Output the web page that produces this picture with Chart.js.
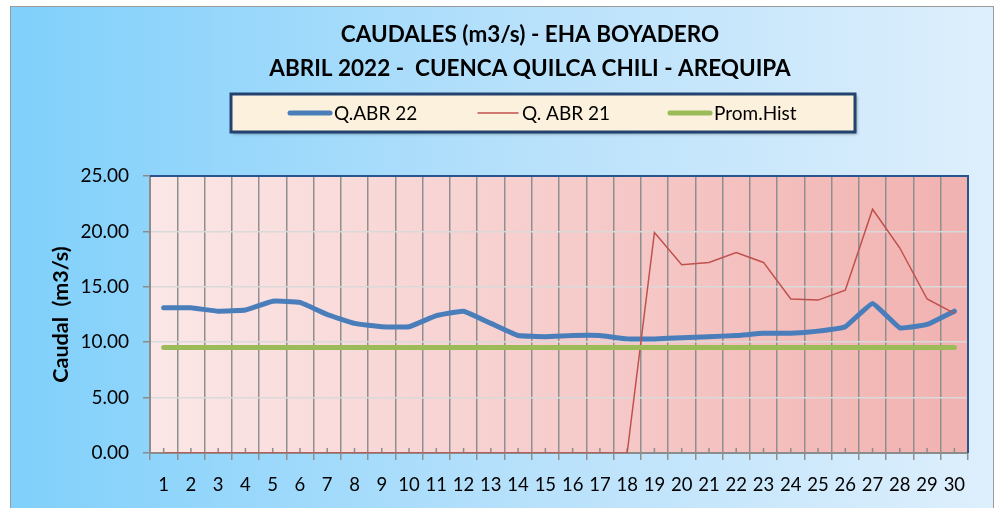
<!DOCTYPE html>
<html>
<head>
<meta charset="utf-8">
<script src="https://cdn.jsdelivr.net/npm/chart.js@4"></script>
<style>
  html, body { margin: 0; padding: 0; background: #fff; }
  #wrap { width: 998px; height: 508px; }
</style>
</head>
<body>
<div id="wrap"><canvas id="caudalChart" width="998" height="508"></canvas></div>
<script>
// caudales eha boyadero - abril 2022

const titleLines = ["CAUDALES (m3/s) - EHA BOYADERO", "ABRIL 2022 -  CUENCA QUILCA CHILI - AREQUIPA"];
const days = ["1","2","3","4","5","6","7","8","9","10","11","12","13","14","15",
              "16","17","18","19","20","21","22","23","24","25","26","27","28","29","30"];
const qAbr22 = [13.1, 13.1, 12.8, 12.9, 13.7, 13.6, 12.5, 11.7, 11.4, 11.4,
                12.4, 12.8, 11.7, 10.6, 10.5, 10.6, 10.6, 10.3, 10.3, 10.4,
                10.5, 10.6, 10.8, 10.8, 11.0, 11.4, 13.5, 11.3, 11.6, 12.8];
const qAbr21 = [0, 0, 0, 0, 0, 0, 0, 0, 0, 0,
                0, 0, 0, 0, 0, 0, 0, 0, 19.9, 17.0,
                17.2, 18.1, 17.2, 13.9, 13.8, 14.7, 22.0, 18.5, 13.9, 12.6];
const promHist = [9.53, 9.53, 9.53, 9.53, 9.53, 9.53, 9.53, 9.53, 9.53, 9.53,
                  9.53, 9.53, 9.53, 9.53, 9.53, 9.53, 9.53, 9.53, 9.53, 9.53,
                  9.53, 9.53, 9.53, 9.53, 9.53, 9.53, 9.53, 9.53, 9.53, 9.53];
const yTicks = [0, 5, 10, 15, 20, 25];

const FONT = "Lato, 'Open Sans', sans-serif";

// background, frame, title and boxed legend
const decorPlugin = {
  id: "decor",
  beforeDraw(chart) {
    const ctx = chart.ctx;
    const a = chart.chartArea;
    ctx.save();
    ctx.fillStyle = "#ffffff";
    ctx.fillRect(0, 0, chart.width, chart.height);
    // outer area
    const g = ctx.createLinearGradient(10, 0, 994, 0);
    g.addColorStop(0, "#7fd0fb");
    g.addColorStop(0.5, "#b5e0fb");
    g.addColorStop(1, "#deeffc");
    ctx.fillStyle = g;
    ctx.fillRect(10, 6, 984, 510);
    ctx.strokeStyle = "#9a9a9a";
    ctx.lineWidth = 1;
    ctx.strokeRect(10.5, 6.5, 983, 510);
    // plot area
    const p = ctx.createLinearGradient(a.left, 0, a.right, 0);
    p.addColorStop(0, "#fbe7e7");
    p.addColorStop(1, "#f1b2b0");
    ctx.fillStyle = p;
    ctx.fillRect(a.left, a.top, a.right - a.left, a.bottom - a.top);
    ctx.restore();
  },
  beforeDatasetsDraw(chart) {
    const ctx = chart.ctx;
    const a = chart.chartArea;
    const x = chart.scales.x;
    ctx.save();
    // small ticks at the day centres
    ctx.strokeStyle = "#8c8c8c";
    ctx.lineWidth = 1.5;
    days.forEach(function (d, i) {
      const px = x.getPixelForValue(i);
      ctx.beginPath();
      ctx.moveTo(px, a.bottom);
      ctx.lineTo(px, a.bottom - 5);
      ctx.stroke();
    });
    // top and right border
    ctx.strokeStyle = "#28558f";
    ctx.lineWidth = 2;
    ctx.beginPath();
    ctx.moveTo(a.left, a.top);
    ctx.lineTo(a.right, a.top);
    ctx.lineTo(a.right, a.bottom);
    ctx.stroke();
    ctx.restore();
  },
  afterDraw(chart) {
    const ctx = chart.ctx;
    ctx.save();
    // title
    ctx.fillStyle = "#000000";
    ctx.textAlign = "center";
    ctx.textBaseline = "middle";
    ctx.font = "bold 22.5px " + FONT;
    ctx.fillText(titleLines[0], 530, 35);
    ctx.fillText(titleLines[1], 530, 69);

    // legend box
    ctx.shadowColor = "rgba(0,0,0,0.35)";
    ctx.shadowOffsetX = 2;
    ctx.shadowOffsetY = 2;
    ctx.shadowBlur = 3;
    ctx.fillStyle = "#fcf1dc";
    ctx.fillRect(231, 94, 624, 38);
    ctx.shadowColor = "transparent";
    ctx.strokeStyle = "#23426f";
    ctx.lineWidth = 3;
    ctx.strokeRect(231, 94, 624, 38);

    const items = [
      { x: 290, ds: chart.data.datasets[0] },
      { x: 478, ds: chart.data.datasets[1] },
      { x: 670, ds: chart.data.datasets[2] }
    ];
    ctx.textAlign = "left";
    ctx.font = "19px " + FONT;
    items.forEach(function (it) {
      ctx.strokeStyle = it.ds.borderColor;
      ctx.lineWidth = it.ds.borderWidth;
      ctx.lineCap = "round";
      ctx.beginPath();
      ctx.moveTo(it.x, 113);
      ctx.lineTo(it.x + 40, 113);
      ctx.stroke();
      ctx.fillStyle = "#000000";
      ctx.fillText(it.ds.label, it.x + 44, 114);
    });
    ctx.restore();
  }
};

document.addEventListener("DOMContentLoaded", function () {
  const canvas = document.getElementById("caudalChart");

  new Chart(canvas, {
    type: "line",
    data: {
      labels: days,
      datasets: [
        {
          label: "Q.ABR 22",
          data: qAbr22,
          borderColor: "#4a7ebb",
          borderWidth: 5,
          borderCapStyle: "round",
          borderJoinStyle: "round",
          pointRadius: 0,
          tension: 0.1,
          order: 2
        },
        {
          label: "Q. ABR 21",
          data: qAbr21,
          borderColor: "#c0504d",
          borderWidth: 1.5,
          pointRadius: 0,
          order: 1
        },
        {
          label: "Prom.Hist",
          data: promHist,
          borderColor: "#9bbb59",
          borderWidth: 5,
          borderCapStyle: "round",
          pointRadius: 0,
          order: 0
        }
      ]
    },
    options: {
      responsive: false,
      animation: false,
      layout: {
        padding: { top: 176, right: 30, bottom: 0, left: 44 }
      },
      plugins: {
        legend: { display: false },
        title: { display: false },
        tooltip: { enabled: false }
      },
      scales: {
        x: {
          offset: true,
          grid: {
            offset: true,
            color: "#8f8f8f",
            lineWidth: 1.5,
            tickLength: 7,
            drawOnChartArea: true
          },
          border: { color: "#8c8c8c", width: 2 },
          ticks: {
            autoSkip: false,
            maxRotation: 0,
            padding: 14,
            color: "#000000",
            font: { family: FONT, size: 18.5 }
          },
          afterFit(scale) { scale.height = 55; }
        },
        y: {
          min: 0,
          max: 25,
          afterBuildTicks(scale) {
            scale.ticks = yTicks.map(function (v) { return { value: v }; });
          },
          grid: {
            color: "#d9d9d9",
            lineWidth: 1.5,
            tickLength: 7,
            tickColor: "#8c8c8c"
          },
          border: { color: "#8c8c8c", width: 2 },
          ticks: {
            padding: 14,
            color: "#000000",
            font: { family: FONT, size: 19 },
            callback: function (v) { return Number(v).toFixed(2); }
          },
          title: {
            display: true,
            text: "Caudal  (m3/s)",
            color: "#000000",
            font: { family: FONT, size: 21.5, weight: "bold" },
            padding: { top: 4, bottom: 0 }
          },
          afterFit(scale) { scale.width = 106; }
        }
      }
    },
    plugins: [decorPlugin]
  });
});
</script>
</body>
</html>
